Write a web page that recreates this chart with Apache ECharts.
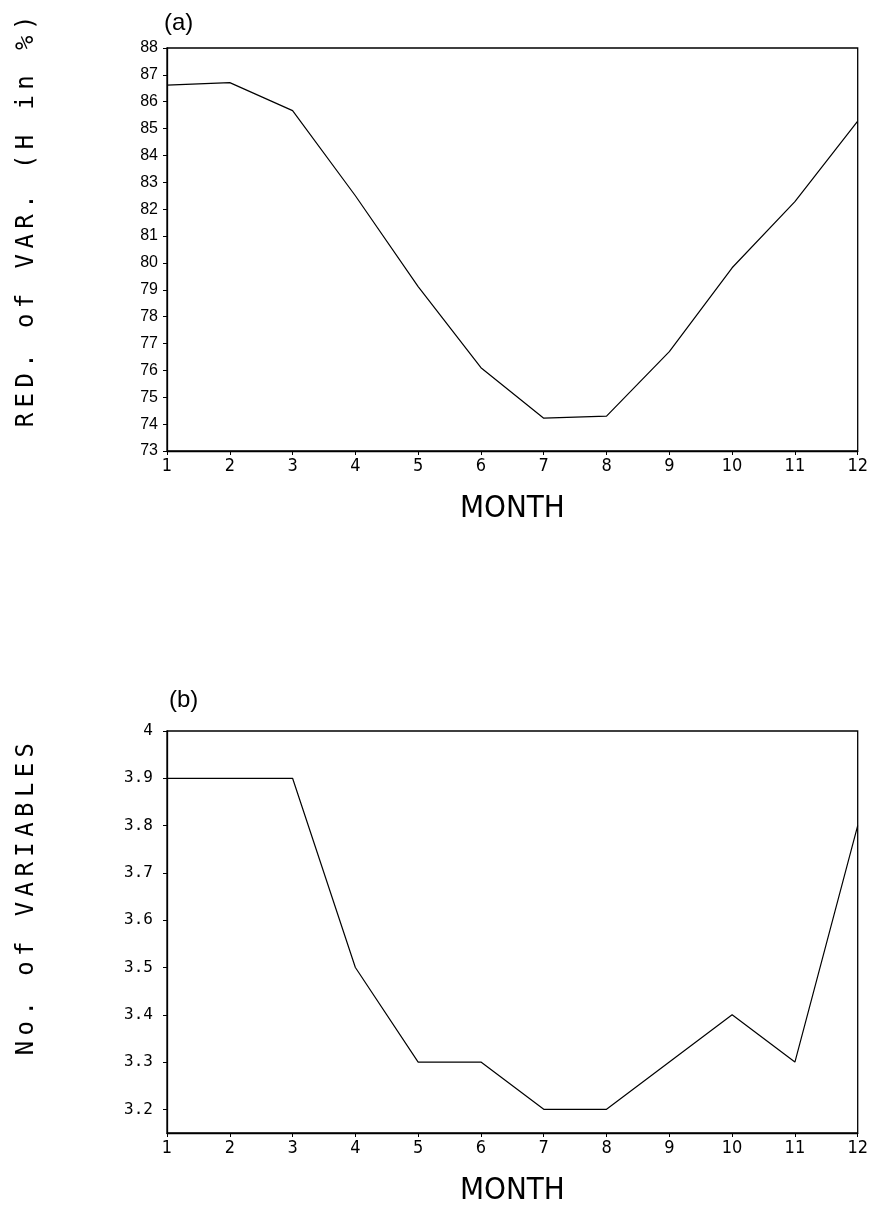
<!DOCTYPE html>
<html><head><meta charset="utf-8">
<script src="https://cdn.jsdelivr.net/npm/echarts@6/dist/echarts.min.js"></script>
<style>html,body{margin:0;padding:0;background:#fff}#c{width:871px;height:1207px}</style>
</head><body><div id="c"></div>
<script>
const months = [1,2,3,4,5,6,7,8,9,10,11,12];
const redVar = [86.62,86.71,85.67,82.5,79.12,76.1,74.22,74.3,76.7,79.82,82.28,85.28];
const numVars = [3.9,3.9,3.9,3.5,3.3,3.3,3.2,3.2,3.3,3.4,3.3,3.8];
const yTicksA = [73,74,75,76,77,78,79,80,81,82,83,84,85,86,87,88];
const yTicksB = [3.2,3.3,3.4,3.5,3.6,3.7,3.8,3.9,4];
const titleA = 'RED. of VAR. (H in %)';
const titleB = 'No. of VARIABLES';
const panelA = '(a)';
const panelB = '(b)';
const xName = 'MONTH';

const NARROW = '"Liberation Sans Narrow","DejaVu Sans Condensed","Liberation Sans",sans-serif';
const chart = echarts.init(document.getElementById('c'), null, {renderer:'canvas'});

function xAxisCfg(gi){
  return {
    gridIndex: gi, type:'value', min:1, max:12, interval:1,
    axisLine:{show:true, lineStyle:{color:'#000', width:1.3}},
    axisTick:{show:true, inside:false, length:4, lineStyle:{color:'#000'}},
    axisLabel:{color:'#000', fontFamily:NARROW, fontSize:18, margin:6},
    splitLine:{show:false},
    name:xName, nameLocation:'middle', nameGap:42,
    nameTextStyle:{color:'#000', fontFamily:NARROW, fontSize:31}
  };
}

function vertTitle(str, bottom, pitch, x){
  const chars = Array.from(str);
  return chars.map((ch,i)=>({
    type:'text', x:x, y:bottom-(i+0.5)*pitch, rotation:Math.PI/2,
    style:{text:ch, fill:'#000', font:'24px "DejaVu Sans Mono", monospace', align:'center', verticalAlign:'middle'}
  }));
}

const pitch = 19.86;
const graphics = [].concat(
  vertTitle(titleA, 430, pitch, 27),
  vertTitle(titleB, 1058, pitch, 27),
  [
    {type:'text', x:164, y:23, style:{text:panelA, fill:'#000', font:'24px "Liberation Sans", Arial, sans-serif', align:'left', verticalAlign:'middle'}},
    {type:'text', x:169, y:700, style:{text:panelB, fill:'#000', font:'24px "Liberation Sans", Arial, sans-serif', align:'left', verticalAlign:'middle'}}
  ]
);

chart.setOption({
  animation:false,
  backgroundColor:'#fff',
  grid:[
    {left:167, top:48, width:696, height:403, show:true, borderColor:'#000', borderWidth:1.3, backgroundColor:'transparent'},
    {left:167, top:731, width:696, height:403, show:true, borderColor:'#000', borderWidth:1.3, backgroundColor:'transparent'}
  ],
  xAxis:[xAxisCfg(0), xAxisCfg(1)],
  yAxis:[
    {gridIndex:0, type:'value', min:yTicksA[0], max:yTicksA[yTicksA.length-1], interval:1,
     axisLine:{show:true, lineStyle:{color:'#000', width:1.3}},
     axisTick:{show:true, length:4, lineStyle:{color:'#000'}},
     axisLabel:{color:'#000', fontFamily:'"Liberation Sans", Arial, sans-serif', fontSize:16, margin:9},
     splitLine:{show:false}},
    {gridIndex:1, type:'value', min:3.15, max:4,
     axisLine:{show:true, lineStyle:{color:'#000', width:1.3}},
     axisTick:{show:true, length:4, lineStyle:{color:'#000'}, customValues:yTicksB},
     axisLabel:{color:'#000', fontFamily:'"DejaVu Sans Mono", monospace', fontSize:16, margin:14,
       customValues:yTicksB, formatter:v=> (Math.abs(v-4)<1e-9 ? '4' : v.toFixed(1))},
     splitLine:{show:false}}
  ],
  series:[
    {type:'line', xAxisIndex:0, yAxisIndex:0, data:months.map((m,i)=>[m, redVar[i]]),
     showSymbol:false, symbol:'none', lineStyle:{color:'#000', width:1.2}},
    {type:'line', xAxisIndex:1, yAxisIndex:1, data:months.map((m,i)=>[m, numVars[i]]),
     showSymbol:false, symbol:'none', lineStyle:{color:'#000', width:1.2}}
  ],
  graphic: graphics
});
</script>
</body></html>
